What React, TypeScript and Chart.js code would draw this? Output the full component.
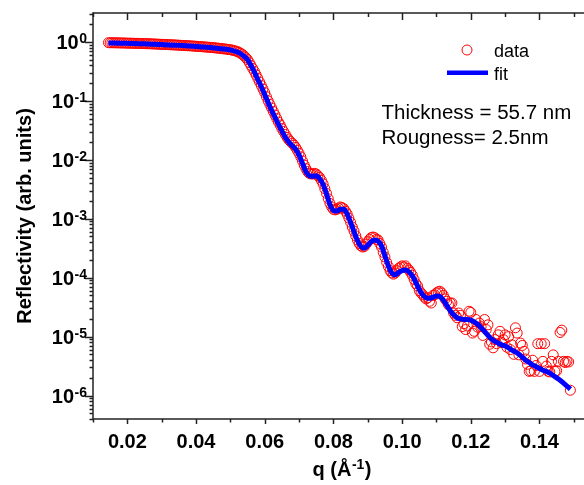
import React, { useEffect, useRef } from "react";
import { Chart, registerables } from "chart.js";

Chart.register(...registerables);

// ---- data (q in 1/Å, reflectivity stored as log10 values) ----
const dataQ = [
  0.0145, 0.0150, 0.0155, 0.0160, 0.0165, 0.0170, 0.0175, 0.0180, 0.0185, 0.0190,
  0.0195, 0.0200, 0.0205, 0.0210, 0.0215, 0.0220, 0.0225, 0.0230, 0.0235, 0.0240,
  0.0245, 0.0250, 0.0255, 0.0260, 0.0265, 0.0270, 0.0275, 0.0280, 0.0285, 0.0290,
  0.0295, 0.0300, 0.0305, 0.0310, 0.0315, 0.0320, 0.0325, 0.0330, 0.0335, 0.0340,
  0.0345, 0.0350, 0.0355, 0.0360, 0.0365, 0.0370, 0.0375, 0.0380, 0.0385, 0.0390,
  0.0395, 0.0400, 0.0405, 0.0410, 0.0415, 0.0420, 0.0425, 0.0430, 0.0435, 0.0440,
  0.0445, 0.0450, 0.0455, 0.0460, 0.0465, 0.0470, 0.0475, 0.0480, 0.0485, 0.0490,
  0.0495, 0.0500, 0.0505, 0.0510, 0.0515, 0.0520, 0.0525, 0.0530, 0.0535, 0.0540,
  0.0545, 0.0550, 0.0555, 0.0560, 0.0565, 0.0570, 0.0575, 0.0580, 0.0585, 0.0590,
  0.0595, 0.0600, 0.0605, 0.0610, 0.0615, 0.0620, 0.0625, 0.0630, 0.0635, 0.0640,
  0.0645, 0.0650, 0.0655, 0.0660, 0.0665, 0.0670, 0.0675, 0.0680, 0.0685, 0.0690,
  0.0695, 0.0700, 0.0705, 0.0710, 0.0715, 0.0720, 0.0725, 0.0730, 0.0735, 0.0740,
  0.0745, 0.0750, 0.0755, 0.0760, 0.0765, 0.0770, 0.0775, 0.0780, 0.0785, 0.0790,
  0.0795, 0.0800, 0.0805, 0.0810, 0.0815, 0.0820, 0.0825, 0.0830, 0.0835, 0.0840,
  0.0845, 0.0850, 0.0855, 0.0860, 0.0865, 0.0870, 0.0875, 0.0880, 0.0885, 0.0890,
  0.0895, 0.0900, 0.0905, 0.0910, 0.0915, 0.0920, 0.0925, 0.0930, 0.0935, 0.0940,
  0.0945, 0.0950, 0.0955, 0.0960, 0.0965, 0.0970, 0.0975, 0.0980, 0.0985, 0.0990,
  0.0995, 0.1000, 0.1005, 0.1010, 0.1015, 0.1020, 0.1025, 0.1030, 0.1035, 0.1040,
  0.1045, 0.1050, 0.1055, 0.1060, 0.1065, 0.1070, 0.1075, 0.1080, 0.1085, 0.1090,
  0.1095, 0.1100, 0.1105, 0.1110, 0.1115, 0.1120, 0.1125, 0.1130, 0.1135, 0.1140,
  0.1145, 0.1150, 0.1155, 0.1160, 0.1165, 0.1170, 0.1175, 0.1180, 0.1185, 0.1190,
  0.1195, 0.1200, 0.1205, 0.1210, 0.1215, 0.1220, 0.1225, 0.1230, 0.1235, 0.1240,
  0.1245, 0.1250, 0.1255, 0.1260, 0.1265, 0.1270, 0.1275, 0.1280, 0.1285, 0.1290,
  0.1295, 0.1300, 0.1305, 0.1310, 0.1315, 0.1320, 0.1325, 0.1330, 0.1335, 0.1340,
  0.1345, 0.1350, 0.1355, 0.1360, 0.1365, 0.1370, 0.1375, 0.1380, 0.1385, 0.1390,
  0.1395, 0.1400, 0.1405, 0.1410, 0.1415, 0.1420, 0.1425, 0.1430, 0.1435, 0.1440,
  0.1445, 0.1450, 0.1455, 0.1460, 0.1465, 0.1470, 0.1475, 0.1480, 0.1485, 0.1490,
];

const dataLogR = [
  -0.012, -0.014, -0.013, -0.015, -0.014, -0.016, -0.015, -0.017, -0.018, -0.017,
  -0.019, -0.020, -0.021, -0.020, -0.022, -0.023, -0.024, -0.023, -0.025, -0.027,
  -0.026, -0.028, -0.030, -0.031, -0.030, -0.033, -0.034, -0.035, -0.036, -0.038,
  -0.039, -0.040, -0.042, -0.043, -0.044, -0.046, -0.047, -0.049, -0.050, -0.052,
  -0.053, -0.055, -0.057, -0.058, -0.060, -0.062, -0.064, -0.065, -0.067, -0.069,
  -0.071, -0.073, -0.075, -0.077, -0.080, -0.082, -0.084, -0.087, -0.089, -0.092,
  -0.094, -0.097, -0.100, -0.103, -0.106, -0.109, -0.113, -0.116, -0.120, -0.124,
  -0.128, -0.132, -0.138, -0.145, -0.153, -0.163, -0.176, -0.192, -0.212, -0.237,
  -0.267, -0.30, -0.35, -0.40, -0.45, -0.50, -0.56, -0.62, -0.68, -0.74,
  -0.80, -0.86, -0.93, -1.00, -1.06, -1.12, -1.18, -1.24, -1.30, -1.36,
  -1.41, -1.47, -1.52, -1.57, -1.62, -1.66, -1.69, -1.72, -1.75, -1.79,
  -1.84, -1.89, -1.95, -2.02, -2.09, -2.15, -2.20, -2.23, -2.24, -2.24,
  -2.23, -2.24, -2.27, -2.30, -2.35, -2.41, -2.49, -2.57, -2.66, -2.74,
  -2.80, -2.84, -2.85, -2.84, -2.82, -2.80, -2.81, -2.83, -2.87, -2.92,
  -2.99, -3.06, -3.14, -3.21, -3.29, -3.36, -3.42, -3.46, -3.48, -3.47,
  -3.43, -3.39, -3.35, -3.32, -3.31, -3.32, -3.35, -3.36, -3.42, -3.48,
  -3.57, -3.65, -3.74, -3.81, -3.88, -3.92, -3.94, -3.92, -3.88, -3.84,
  -3.82, -3.80, -3.82, -3.80, -3.84, -3.87, -3.91, -3.96, -4.03, -4.10,
  -4.14, -4.22, -4.26, -4.29, -4.33, -4.36, -4.34, -4.40, -4.43, -4.30,
  -4.29, -4.26, -4.24, -4.23, -4.26, -4.30, -4.36, -4.40, -4.46, -4.43,
  -4.43, -4.60, -4.64, -4.68, -4.60, -4.64, -4.83, -4.78, -4.88, -4.82,
  -4.57, -4.59, -4.94, -4.91, -4.71, -4.84, -4.77, -4.83, -4.98, -4.71,
  -4.88, -4.80, -5.13, -5.09, -5.19, -5.05, -5.12, -4.97, -4.91, -5.10,
  -5.05, -4.97, -5.18, -5.00, -5.22, -5.14, -5.30, -4.85, -4.94, -5.31,
  -5.11, -5.15, -5.25, -5.38, -5.47, -5.59, -5.58, -5.40, -5.59, -5.49,
  -5.12, -5.59, -5.12, -5.42, -5.12, -5.50, -5.59, -5.60, -5.42, -5.31,
  -5.59, -5.58, -5.42, -4.93, -4.89, -5.42, -5.44, -5.42, -5.43, -5.91,
];

const fitQ = [
  0.0145, 0.016, 0.018, 0.020, 0.022, 0.024, 0.026, 0.028, 0.030, 0.032,
  0.034, 0.036, 0.038, 0.040, 0.042, 0.044, 0.046, 0.048, 0.050,
  0.051, 0.052, 0.053, 0.054, 0.055, 0.056, 0.057, 0.058, 0.059, 0.060,
  0.061, 0.062, 0.063, 0.064, 0.065, 0.066, 0.067, 0.068, 0.069, 0.070,
  0.071, 0.072, 0.073, 0.074, 0.075, 0.076, 0.077, 0.078, 0.079, 0.080,
  0.081, 0.082, 0.083, 0.084, 0.085, 0.086, 0.087, 0.088, 0.089, 0.090,
  0.091, 0.092, 0.093, 0.094, 0.095, 0.096, 0.097, 0.098, 0.099, 0.100,
  0.101, 0.102, 0.103, 0.104, 0.105, 0.106, 0.107, 0.108, 0.109, 0.110,
  0.111, 0.112, 0.113, 0.114, 0.115, 0.116, 0.117, 0.118, 0.119, 0.120,
  0.121, 0.122, 0.123, 0.124, 0.125, 0.126, 0.127, 0.128, 0.129, 0.130,
  0.131, 0.132, 0.133, 0.134, 0.135, 0.136, 0.137, 0.138, 0.139, 0.140,
  0.141, 0.142, 0.143, 0.144, 0.145, 0.146, 0.147, 0.148, 0.149,
];

const fitLogR = [
  -0.018, -0.019, -0.021, -0.024, -0.027, -0.031, -0.035, -0.040, -0.045, -0.050,
  -0.056, -0.062, -0.069, -0.077, -0.086, -0.096, -0.107, -0.120, -0.137,
  -0.150, -0.170, -0.200, -0.245, -0.30, -0.40, -0.51, -0.64, -0.76, -0.89,
  -1.03, -1.16, -1.28, -1.40, -1.51, -1.62, -1.70, -1.76, -1.82, -1.92,
  -2.06, -2.20, -2.27, -2.28, -2.27, -2.32, -2.42, -2.58, -2.76, -2.86,
  -2.87, -2.84, -2.84, -2.92, -3.06, -3.22, -3.37, -3.47, -3.50, -3.45,
  -3.39, -3.36, -3.38, -3.46, -3.63, -3.80, -3.92, -3.95, -3.91, -3.88,
  -3.87, -3.90, -3.97, -4.08, -4.20, -4.29, -4.34, -4.35, -4.33, -4.31,
  -4.32, -4.38, -4.47, -4.56, -4.63, -4.68, -4.70, -4.71, -4.71, -4.72,
  -4.75, -4.79, -4.85, -4.91, -4.98, -5.04, -5.08, -5.11, -5.14, -5.16,
  -5.19, -5.23, -5.26, -5.30, -5.35, -5.40, -5.44, -5.48, -5.51, -5.54,
  -5.57, -5.59, -5.62, -5.66, -5.70, -5.74, -5.79, -5.84, -5.89,
];

// ---- axis ticks & texts ----
const xMajorTicks = [0.02, 0.04, 0.06, 0.08, 0.1, 0.12, 0.14];
const xTickLabels = ["0.02", "0.04", "0.06", "0.08", "0.10", "0.12", "0.14"];
const xMinorTicks = [0.01, 0.03, 0.05, 0.07, 0.09, 0.11, 0.13, 0.15];
const yDecades = [-6, -5, -4, -3, -2, -1, 0];
const seriesNames = ["data", "fit"];
const noteLines = ["Thickness = 55.7 nm", "Rougness= 2.5nm"];
const xTitle = ["q (Å", "-1", ")"];
const yTitle = "Reflectivity (arb. units)";

const FONT = "'Liberation Sans', Arial, Helvetica, sans-serif";
const AXIS = "#222";

const decorPlugin = {
  id: "decor",
  afterDraw(chart: any) {
    const ctx: CanvasRenderingContext2D = chart.ctx;
    const { left, right, top, bottom } = chart.chartArea;
    const xs = chart.scales.x;
    const ys = chart.scales.y;
    ctx.save();
    ctx.strokeStyle = AXIS;
    ctx.lineWidth = 1.5;
    const line = (x1: number, y1: number, x2: number, y2: number) => {
      ctx.beginPath();
      ctx.moveTo(x1, y1);
      ctx.lineTo(x2, y2);
      ctx.stroke();
    };
    // frame
    line(left, top, right + 2, top);
    line(left, bottom, right + 2, bottom);
    line(left, top - 0.75, left, bottom + 0.75);
    line(right, top, right, bottom);

    // x ticks
    xMajorTicks.forEach((v) => {
      const px = Math.round(xs.getPixelForValue(v)) + 0.5;
      line(px, bottom, px, bottom + 5);
      line(px, top, px, top + 7);
    });
    xMinorTicks.forEach((v) => {
      const px = Math.round(xs.getPixelForValue(v)) + 0.5;
      line(px, bottom, px, bottom + 3.5);
      line(px, top, px, top + 4);
    });
    // y ticks
    const ymin = ys.min, ymax = ys.max;
    for (let d = -7; d <= 1; d++) {
      for (let k = 1; k <= 9; k++) {
        const v = k * Math.pow(10, d);
        if (v < ymin || v > ymax) continue;
        const py = Math.round(ys.getPixelForValue(v)) + 0.5;
        line(left, py, left - (k === 1 ? 8 : 3.5), py);
      }
    }

    // x tick labels
    ctx.fillStyle = "#000";
    ctx.font = `bold 20px ${FONT}`;
    ctx.textAlign = "center";
    ctx.textBaseline = "alphabetic";
    xMajorTicks.forEach((v, i) => {
      ctx.fillText(xTickLabels[i], xs.getPixelForValue(v), bottom + 29);
    });

    // y tick labels 10^n
    yDecades.forEach((d) => {
      const py = ys.getPixelForValue(Math.pow(10, d));
      const exp = String(d);
      ctx.font = `bold 14px ${FONT}`;
      ctx.textAlign = "right";
      const ew = ctx.measureText(exp).width;
      ctx.fillText(exp, 87, py + 1.5);
      ctx.font = `bold 20px ${FONT}`;
      ctx.fillText("10", 87 - ew - 0.5, py + 7.5);
    });

    // x title
    ctx.textAlign = "left";
    ctx.font = `bold 20px ${FONT}`;
    const w0 = ctx.measureText(xTitle[0]).width;
    const w2 = ctx.measureText(xTitle[2]).width;
    ctx.font = `bold 14px ${FONT}`;
    const w1 = ctx.measureText(xTitle[1]).width;
    const total = w0 + w1 + w2 + 1;
    let tx = (left + right) / 2 - total / 2;
    const tb = 476;
    ctx.font = `bold 20px ${FONT}`;
    ctx.fillText(xTitle[0], tx, tb);
    tx += w0 + 0.5;
    ctx.font = `bold 14px ${FONT}`;
    ctx.fillText(xTitle[1], tx, tb - 7);
    tx += w1 + 0.5;
    ctx.font = `bold 20px ${FONT}`;
    ctx.fillText(xTitle[2], tx, tb);

    // y title
    ctx.save();
    ctx.translate(31, (top + bottom) / 2);
    ctx.rotate(-Math.PI / 2);
    ctx.textAlign = "center";
    ctx.font = `bold 20px ${FONT}`;
    ctx.fillText(yTitle, 0, 0);
    ctx.restore();

    // legend
    ctx.strokeStyle = "#ff0000";
    ctx.lineWidth = 1;
    ctx.beginPath();
    ctx.arc(467, 50, 5, 0, Math.PI * 2);
    ctx.stroke();
    ctx.strokeStyle = "#0000ff";
    ctx.lineWidth = 4.5;
    line(447, 72.7, 488, 72.7);
    ctx.font = `18px ${FONT}`;
    ctx.textAlign = "left";
    ctx.fillText(seriesNames[0], 494, 56.5);
    ctx.fillText(seriesNames[1], 494, 80);

    // annotation
    ctx.font = `20.5px ${FONT}`;
    ctx.fillText(noteLines[0], 381.5, 118.5);
    ctx.fillText(noteLines[1], 381.5, 144);
    ctx.restore();
  },
};

export default function App() {
  const canvasRef = useRef<HTMLCanvasElement | null>(null);

  useEffect(() => {
    if (!canvasRef.current) return;
    const dataPts = dataQ.map((q, i) => ({ x: q, y: Math.pow(10, dataLogR[i]) }));
    const fitPts = fitQ.map((q, i) => ({ x: q, y: Math.pow(10, fitLogR[i]) }));
    const chart = new Chart(canvasRef.current, {
      type: "scatter",
      data: {
        datasets: [
          {
            label: seriesNames[1],
            data: fitPts,
            showLine: true,
            borderColor: "#0000ff",
            backgroundColor: "#0000ff",
            borderWidth: 5,
            pointRadius: 0,
            cubicInterpolationMode: "monotone",
            order: 0,
          } as any,
          {
            label: seriesNames[0],
            data: dataPts,
            showLine: false,
            borderColor: "#ff0000",
            backgroundColor: "rgba(0,0,0,0)",
            borderWidth: 1,
            pointRadius: 5,
            pointStyle: "circle",
            order: 1,
          } as any,
        ],
      },
      options: {
        animation: false,
        responsive: false,
        devicePixelRatio: 1,
        layout: { padding: { left: 0, top: 13, right: 9, bottom: 0 } },
        plugins: {
          legend: { display: false },
          title: { display: false },
          tooltip: { enabled: false },
        },
        scales: {
          x: {
            type: "linear",
            min: 0.01,
            max: 0.155,
            grid: { display: false },
            border: { display: false },
            ticks: { display: false },
            afterFit: (s: any) => {
              s.height = 66;
            },
          },
          y: {
            type: "logarithmic",
            min: 4e-7,
            max: 3.1,
            grid: { display: false },
            border: { display: false },
            ticks: { display: false },
            afterFit: (s: any) => {
              s.width = 93;
            },
          },
        },
      },
      plugins: [decorPlugin],
    });
    return () => chart.destroy();
  }, []);

  return (
    <div
      style={{
        position: "absolute",
        left: 0,
        top: 0,
        width: 584,
        height: 485,
        overflow: "hidden",
        background: "#fff",
      }}
    >
      <canvas ref={canvasRef} width={600} height={485} style={{ display: "block" }} />
    </div>
  );
}
